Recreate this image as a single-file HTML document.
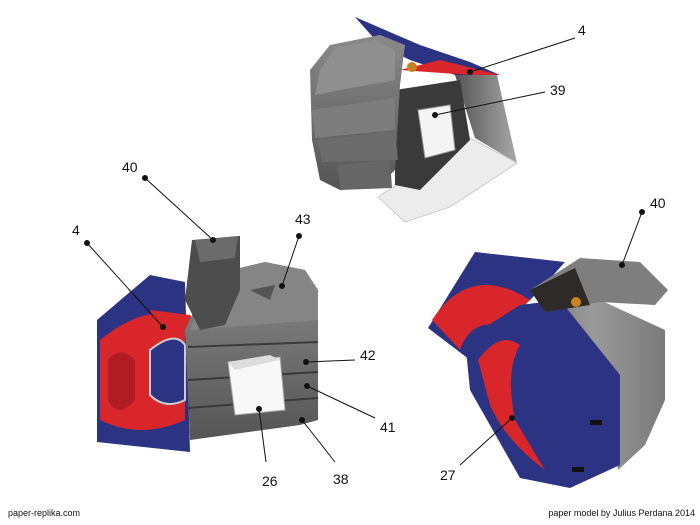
<!DOCTYPE html>
<html><head><style>
body{margin:0;background:#fff;width:700px;height:525px;overflow:hidden}
svg{display:block}
text{font-family:"Liberation Sans",sans-serif;fill:#111}
</style></head><body>
<svg width="700" height="525" viewBox="0 0 700 525">
<defs>
<linearGradient id="g1" x1="0" y1="0" x2="1" y2="0"><stop offset="0" stop-color="#6a6a6a"/><stop offset="0.5" stop-color="#9a9a9a"/><stop offset="1" stop-color="#7a7a7a"/></linearGradient>
<linearGradient id="g2" x1="0" y1="0" x2="0" y2="1"><stop offset="0" stop-color="#8a8a8a"/><stop offset="1" stop-color="#555"/></linearGradient>
<linearGradient id="g3" x1="0" y1="0" x2="1" y2="0"><stop offset="0" stop-color="#555"/><stop offset="1" stop-color="#a8a8a8"/></linearGradient>
</defs>

<!-- TOP MODEL -->
<polygon points="355,17 420,45 470,62 500,75 455,75 410,60 380,45" fill="#2c3383"/>
<polygon points="400,70 440,60 500,75 470,75" fill="#d8262a"/>
<polygon points="455,75 497,75 517,163 475,138" fill="url(#g3)"/>
<polygon points="378,197 470,138 517,163 450,207 405,222" fill="#ececec" stroke="#ccc"/>
<polygon points="395,90 460,80 470,140 420,190 395,185" fill="#3a3a3a"/>
<polygon points="310,70 330,45 380,35 405,45 400,85 395,170 380,185 340,190 320,180 312,140" fill="url(#g2)"/>
<polygon points="320,70 335,48 375,40 395,50 395,80 340,90 315,95" fill="#8f8f8f"/>
<polygon points="312,110 395,98 395,130 315,138" fill="#7d7d7d"/>
<polygon points="318,140 395,132 398,160 322,162" fill="#6c6c6c"/>
<polygon points="338,165 390,160 392,188 340,190" fill="#666"/>
<polygon points="418,110 450,105 455,150 425,158" fill="#f4f4f4" stroke="#999"/>
<circle cx="412" cy="67" r="5" fill="#c8811c"/>

<!-- LEFT MODEL -->
<polygon points="97,320 150,275 185,282 190,452 97,442" fill="#2c3383"/>
<path d="M100,340 Q150,300 185,320 L185,420 Q140,440 100,420 Z" fill="#d8262a"/>
<path d="M150,350 Q175,330 185,345 L185,400 Q165,410 150,395 Z" fill="#2c3383" stroke="#ccc" stroke-width="2"/>
<path d="M108,360 Q120,345 135,360 L135,400 Q118,420 108,400 Z" fill="#b01c22"/>
<polygon points="150,310 190,315 200,330 160,335" fill="#d8262a"/>
<polygon points="210,275 265,262 305,270 318,290 318,420 300,425 190,440 185,330" fill="url(#g2)"/>
<polygon points="210,275 265,262 305,270 318,290 318,320 190,330" fill="#858585"/>
<polygon points="250,290 275,285 270,300" fill="#555"/>
<line x1="188" y1="347" x2="318" y2="342" stroke="#3a3a3a" stroke-width="2"/>
<line x1="188" y1="380" x2="318" y2="372" stroke="#3a3a3a" stroke-width="2"/>
<line x1="188" y1="408" x2="318" y2="398" stroke="#3a3a3a" stroke-width="2"/>
<polygon points="192,240 240,236 240,290 225,325 200,330 185,300" fill="#4d4d4d"/>
<polygon points="195,240 238,236 235,258 200,262" fill="#6b6b6b"/>
<polygon points="228,362 280,357 285,410 235,415" fill="#f8f8f8" stroke="#aaa"/>
<polygon points="228,362 270,355 280,360 235,370" fill="#ddd"/>

<!-- RIGHT MODEL -->
<polygon points="428,328 475,252 565,262 540,290 500,330 470,360" fill="#2c3383"/>
<path d="M432,320 Q470,262 530,300 L500,325 Q470,320 460,350 Z" fill="#d8262a"/>
<polygon points="520,305 600,300 665,330 665,400 645,445 618,470 600,375" fill="url(#g1)"/>
<polygon points="465,340 520,305 560,300 620,375 620,465 570,488 520,478 470,390" fill="#2c3383"/>
<path d="M478,360 Q500,330 520,345 Q505,370 515,420 L545,470 Q505,440 490,405 Z" fill="#d8262a"/>
<polygon points="530,290 580,258 640,262 668,290 655,305 600,302 545,312" fill="#7e7e7e"/>
<polygon points="530,290 575,268 590,305 545,312" fill="#2e2a28"/>
<circle cx="576" cy="302" r="5" fill="#c8811c"/>
<rect x="590" y="420" width="12" height="5" fill="#111"/>
<rect x="572" y="467" width="12" height="5" fill="#111"/>

<!-- leaders -->
<g stroke="#111" stroke-width="1" fill="#111">
<line x1="575" y1="38" x2="470" y2="72"/><circle cx="470" cy="72" r="2.5"/>
<line x1="545" y1="92" x2="435" y2="115"/><circle cx="435" cy="115" r="2.5"/>
<line x1="145" y1="178" x2="213" y2="240"/><circle cx="145" cy="178" r="2.5"/><circle cx="213" cy="240" r="2.5"/>
<line x1="299" y1="236" x2="282" y2="286"/><circle cx="299" cy="236" r="2.5"/><circle cx="282" cy="286" r="2.5"/>
<line x1="87" y1="243" x2="163" y2="327"/><circle cx="87" cy="243" r="2.5"/><circle cx="163" cy="327" r="2.5"/>
<line x1="355" y1="360" x2="306" y2="362"/><circle cx="306" cy="362" r="2.5"/>
<line x1="375" y1="418" x2="307" y2="386"/><circle cx="307" cy="386" r="2.5"/>
<line x1="335" y1="462" x2="302" y2="420"/><circle cx="302" cy="420" r="2.5"/>
<line x1="266" y1="462" x2="259" y2="409"/><circle cx="259" cy="409" r="2.5"/>
<line x1="642" y1="212" x2="622" y2="265"/><circle cx="642" cy="212" r="2.5"/><circle cx="622" cy="265" r="2.5"/>
<line x1="460" y1="465" x2="512" y2="418"/><circle cx="512" cy="418" r="2.5"/>
</g>
<g font-size="14">
<text x="578" y="35">4</text>
<text x="550" y="95">39</text>
<text x="122" y="172">40</text>
<text x="295" y="224">43</text>
<text x="72" y="235">4</text>
<text x="360" y="360">42</text>
<text x="380" y="432">41</text>
<text x="333" y="484">38</text>
<text x="262" y="486">26</text>
<text x="650" y="208">40</text>
<text x="440" y="480">27</text>
</g>
<text x="8" y="516" font-size="9">paper-replika.com</text>
<text x="695" y="516" font-size="9" text-anchor="end">paper model by Julius Perdana 2014</text>
</svg>
</body></html>
